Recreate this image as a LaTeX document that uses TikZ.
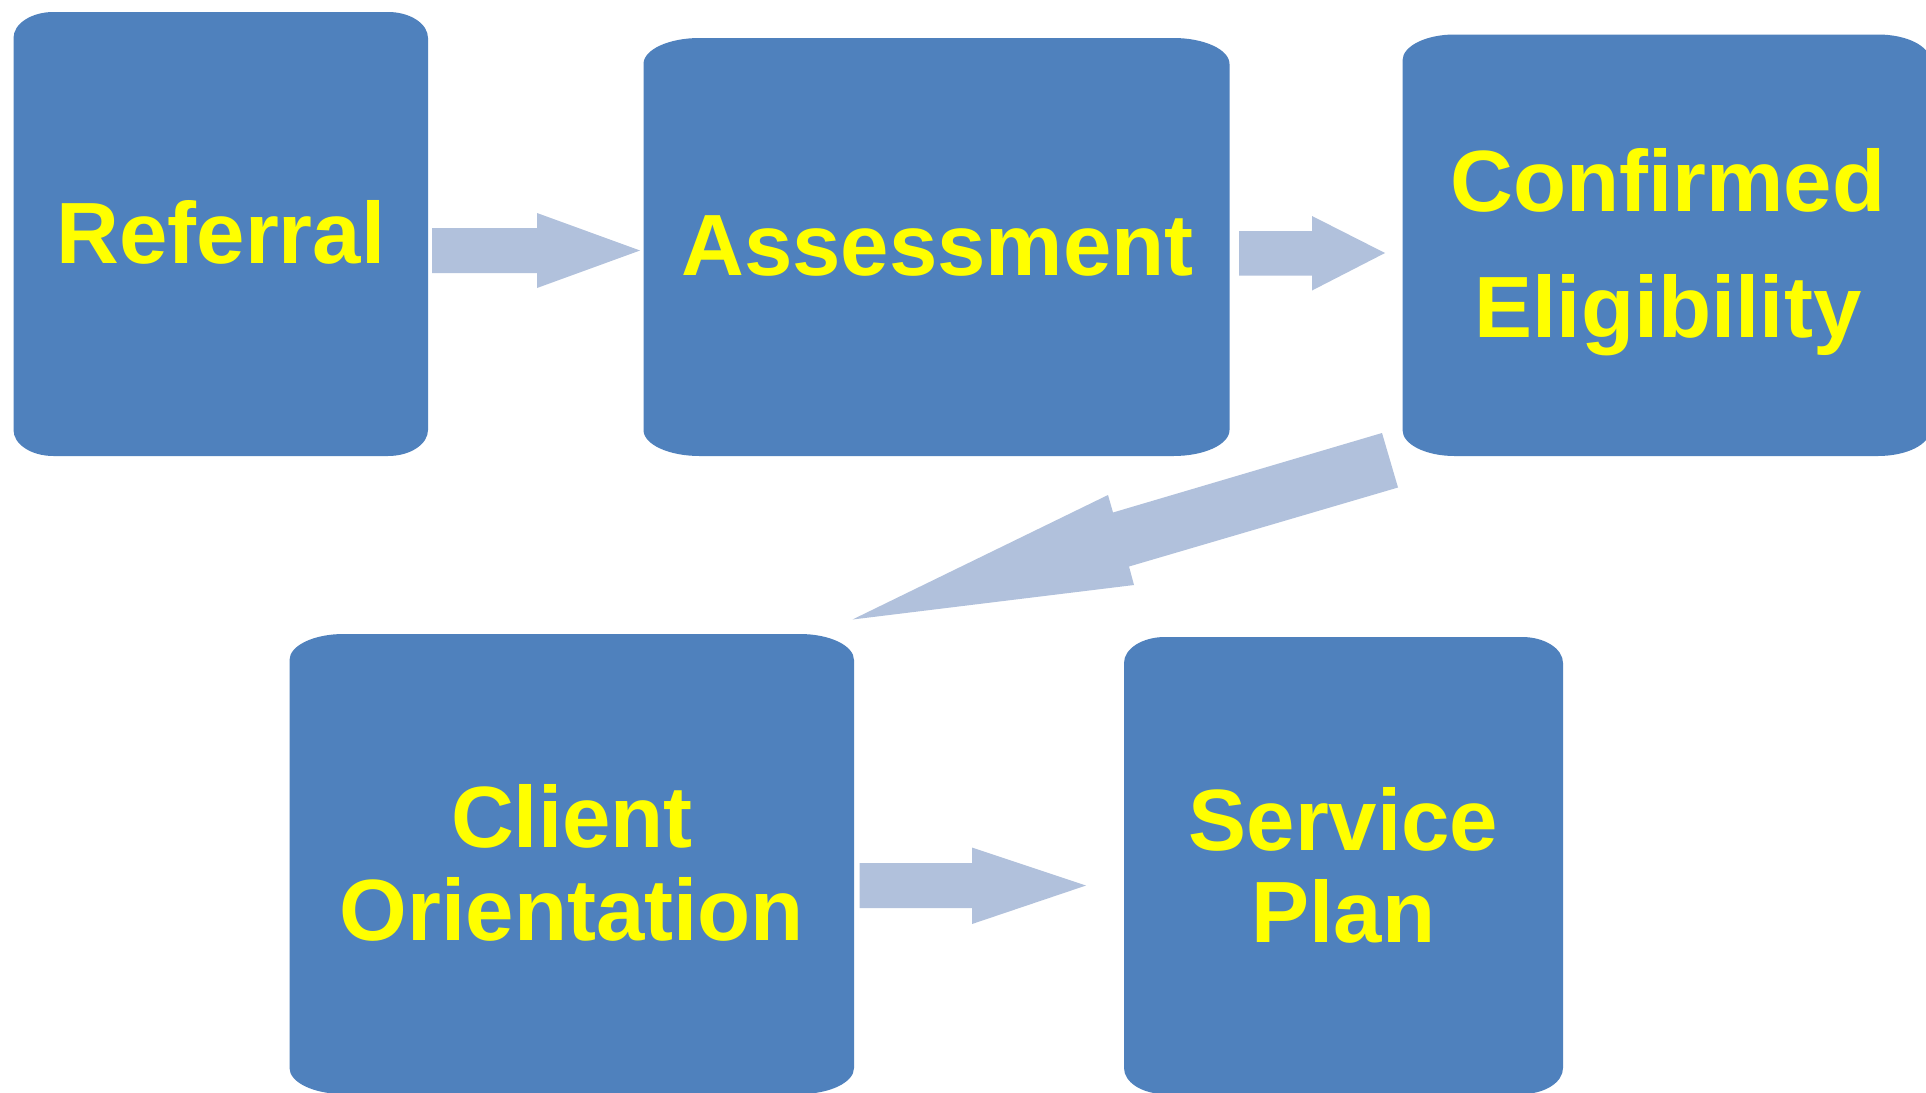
\documentclass[tikz,border=0pt]{standalone}
\usepackage{fontspec}
\setmainfont{Liberation Sans}
\definecolor{boxblue}{RGB}{79,129,189}
\definecolor{arrowblue}{RGB}{177,193,220}
\definecolor{labelyellow}{RGB}{255,255,0}
% elliptic-corner box: x1, y1 (top), x2, y2 (bottom), corner x radius; page pixel coordinates
\newcommand\eboxpath[5]{%
  \fill[boxfill] ({#1},{-(#2)-26})
    arc[start angle=180,end angle=90,x radius=#5,y radius=26]
    -- ({#3-#5},{-(#2)})
    arc[start angle=90,end angle=0,x radius=#5,y radius=26]
    -- ({#3},{-(#4)+26})
    arc[start angle=0,end angle=-90,x radius=#5,y radius=26]
    -- ({#1+#5},{-(#4)})
    arc[start angle=-90,end angle=-180,x radius=#5,y radius=26]
    -- cycle;}
\begin{document}
\begin{tikzpicture}[x=1pt,y=1pt,
  lbl/.style={font=\bfseries\fontsize{87}{100}\selectfont,text=labelyellow,inner sep=0pt,anchor=base},
  boxfill/.style={fill=boxblue},
  arrowfill/.style={fill=arrowblue}]
\useasboundingbox (0,0) rectangle (1926,-1092);
\fill[white] (0,0) rectangle (1926,-1092);
\begin{scope}
\clip (0,0) rectangle (1926,-1092);
% boxes
\eboxpath{13.5}{12}{428}{456}{40}
\eboxpath{643.5}{38}{1229.5}{456}{56}
\eboxpath{1402.5}{34.5}{1930}{456}{52}
\eboxpath{289.5}{634}{854}{1094}{54}
\eboxpath{1124}{637}{1563}{1094}{41}
% labels
\node[lbl] (referral) at (221,-263) {Referral};
\node[lbl] (assessment) at (937.5,-275) {Assessment};
\node[lbl] (confirmed) at (1668,-211) {Confirmed};
\node[lbl] (eligibility) at (1668,-337) {Eligibility};
\node[lbl] (client) at (572,-847) {Client};
\node[lbl] (orientation) at (572,-940) {Orientation};
\node[lbl] (service) at (1343.5,-850) {Service};
\node[lbl] (plan) at (1343.5,-942) {Plan};
% block arrows
\fill[arrowfill] (432,-228) -- (537,-228) -- (537,-213) -- (640,-250.5)
  -- (537,-288) -- (537,-273) -- (432,-273) -- cycle;
\fill[arrowfill] (1239,-231) -- (1312,-231) -- (1312,-216) -- (1385,-253)
  -- (1312,-290.5) -- (1312,-275.5) -- (1239,-275.5) -- cycle;
\fill[arrowfill] (1382,-433) -- (1398,-487.5) -- (1129,-566.5) -- (1134,-585)
  -- (852.5,-619.5) -- (1108,-495) -- (1113,-512.5) -- cycle;
\fill[arrowfill] (859.5,-863) -- (972,-863) -- (972,-847.5) -- (1086,-885.5)
  -- (972,-924) -- (972,-908) -- (859.5,-908) -- cycle;
\end{scope}
\end{tikzpicture}
\end{document}
